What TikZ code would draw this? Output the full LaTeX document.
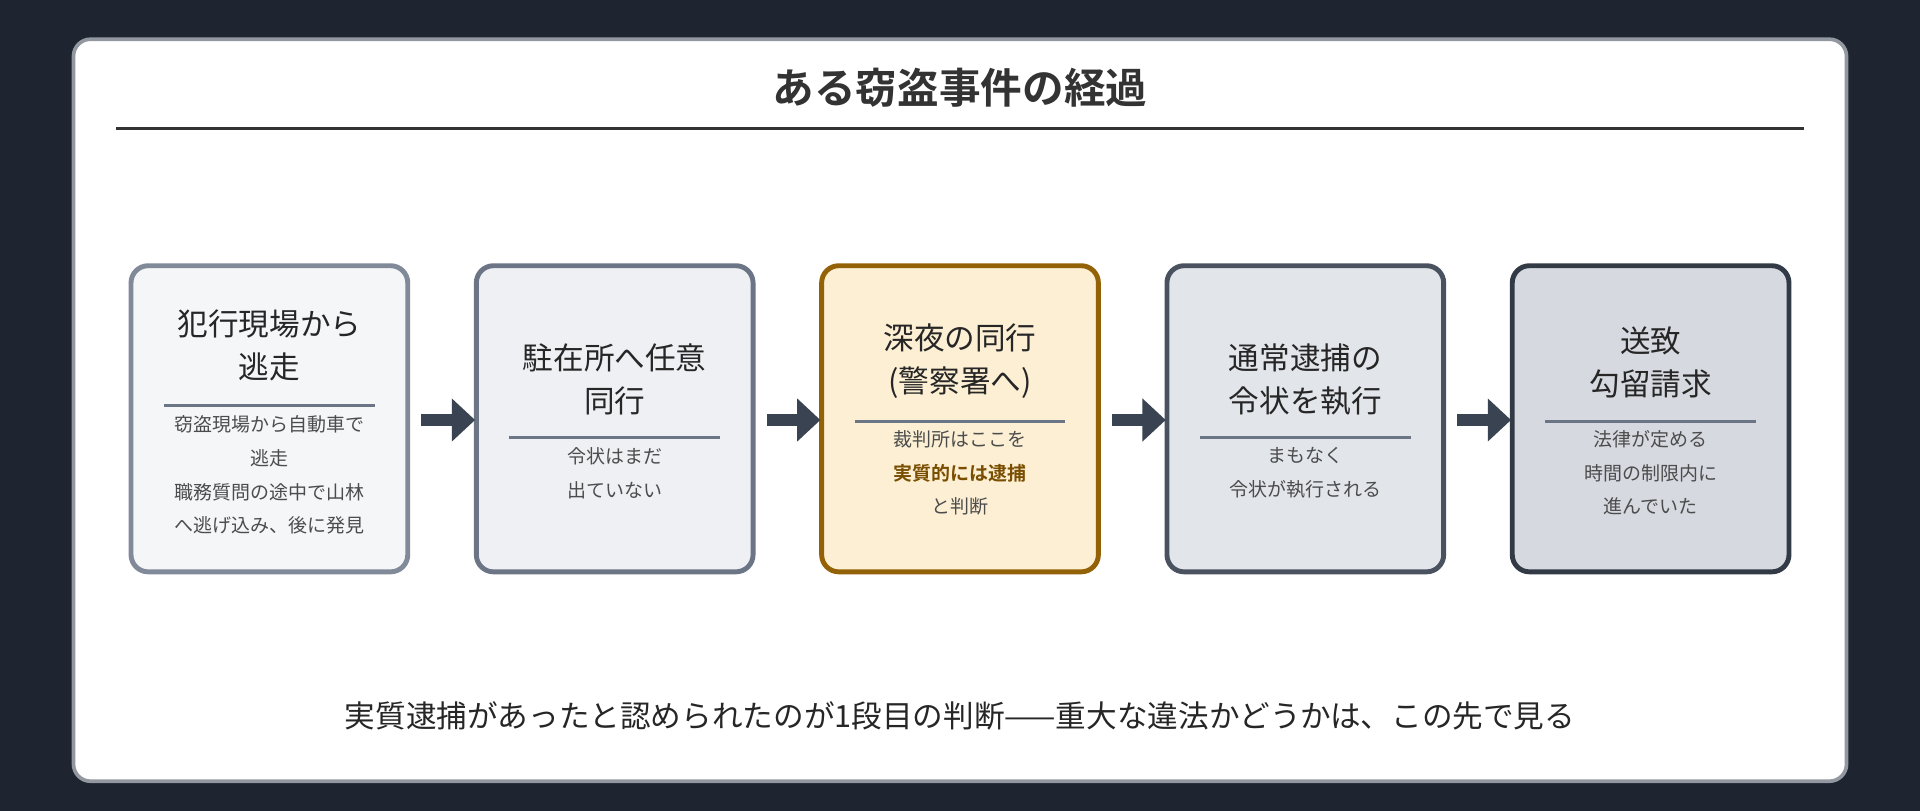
\documentclass[tikz,border=0pt]{standalone}
\usepackage{fontspec}
\setmainfont{Noto Sans CJK JP}
\newfontfamily\cjkb{Noto Sans CJK JP}[BoldFont={* Bold}]
\begin{document}
\begin{tikzpicture}[x=1pt,y=-1pt,
  card/.style={rounded corners=14pt,line width=4pt},
  ttl/.style={font=\fontsize{25}{35}\selectfont,text=black!85,align=center,anchor=center},
  sub/.style={font=\fontsize{15.5}{27.5}\selectfont,text=black!70,align=center,anchor=north},
  sep/.style={line width=2.5pt,draw=c2},
  arr/.style={line width=9pt,draw=arrc,-{Triangle[length=19pt,width=34pt]}}]
\usetikzlibrary{arrows.meta}
\definecolor{bg}{HTML}{1E2530}
\definecolor{c1}{HTML}{818A99}\definecolor{f1}{HTML}{F5F6F8}
\definecolor{c2}{HTML}{6B7585}\definecolor{f2}{HTML}{EEF0F4}
\definecolor{c3}{HTML}{946206}\definecolor{f3}{HTML}{FCEFD4}
\definecolor{c4}{HTML}{4A5260}\definecolor{f4}{HTML}{E2E5EA}
\definecolor{c5}{HTML}{323A46}\definecolor{f5}{HTML}{D6D9E0}
\definecolor{arrc}{HTML}{3A4352}
\definecolor{gold}{HTML}{7A4E00}
\fill[bg] (0,0) rectangle (1568,662);
\useasboundingbox (0,0) rectangle (1568,662);
\draw[fill=white,draw=c4!60,line width=3pt,rounded corners=14pt] (60,32) rectangle (1508,638);
\node[font=\cjkb\bfseries\fontsize{34}{40}\selectfont,text=black!80] (title) at (784,72) {ある窃盗事件の経過};
\draw[line width=2pt,draw=black!80] (95,105) -- (1473,105);
% boxes
\foreach \i/\x in {1/107,2/389,3/671,4/953,5/1235}{
  \draw[card,draw=c\i,fill=f\i] (\x,217) rectangle ++(226,250);
  \node (b\i) at (\x+113,342) {};
}
% box1
\node[ttl] (t1) at (220,282) {犯行現場から\\逃走};
\draw[sep] (134,331) -- (306,331);
\node[sub] (s1) at (220,336) {窃盗現場から自動車で\\逃走\\職務質問の途中で山林\\へ逃げ込み、後に発見};
% box2
\node[ttl] (t2) at (502,310) {駐在所へ任意\\同行};
\draw[sep] (416,357) -- (588,357);
\node[sub] (s2) at (502,362) {令状はまだ\\出ていない};
% box3
\node[ttl] (t3) at (784,295) {深夜の同行\\(警察署へ)};
\draw[sep] (698,344) -- (870,344);
\node[sub] (s3) at (784,348) {裁判所はここを\\{\cjkb\bfseries\color{gold}実質的には逮捕}\\と判断};
% box4
\node[ttl] (t4) at (1066,310) {通常逮捕の\\令状を執行};
\draw[sep] (980,357) -- (1152,357);
\node[sub] (s4) at (1066,362) {まもなく\\令状が執行される};
% box5
\node[ttl] (t5) at (1348,296) {送致\\勾留請求};
\draw[sep] (1262,344) -- (1434,344);
\node[sub] (s5) at (1348,348) {法律が定める\\時間の制限内に\\進んでいた};
% arrows
\coordinate (a1) at (344,343);\coordinate (e1) at (388,343);
\coordinate (a2) at (626,343);\coordinate (e2) at (670,343);
\coordinate (a3) at (908,343);\coordinate (e3) at (952,343);
\coordinate (a4) at (1190,343);\coordinate (e4) at (1234,343);
\foreach \k in {1,2,3,4}{\draw[arr] (a\k) -- (e\k);}
\node[font=\fontsize{25}{30}\selectfont,text=black!85] (foot) at (784,585) {実質逮捕があったと認められたのが1段目の判断——重大な違法かどうかは、この先で見る};
\end{tikzpicture}
\end{document}
